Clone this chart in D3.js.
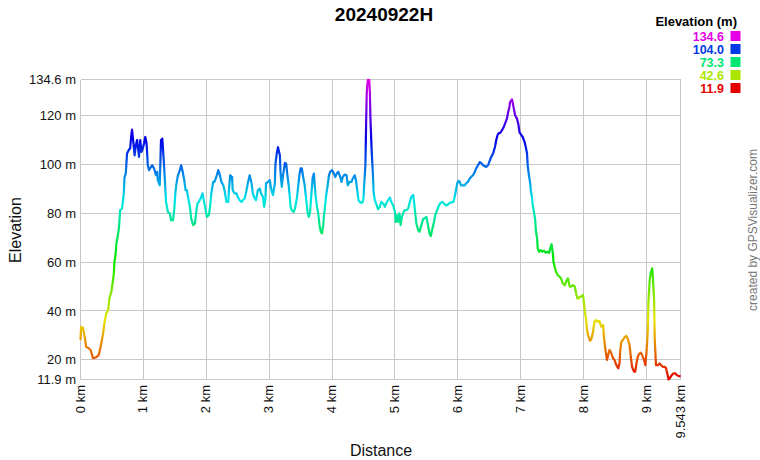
<!DOCTYPE html>
<html><head><meta charset="utf-8">
<script src="https://cdn.jsdelivr.net/npm/d3@7"></script>
<style>
html,body{margin:0;padding:0;background:#fff;}
svg{display:block;font-family:"Liberation Sans",Arial,sans-serif;}
</style></head>
<body>
<svg id="chart" width="760" height="460"></svg>
<script>
// ---- data ----
const title = "20240922H";
const distKm = [0.00,0.01,0.04,0.07,0.09,0.13,0.16,0.20,0.25,0.29,0.32,0.36,0.38,0.41,0.44,0.46,0.49,0.51,0.53,0.54,0.56,0.57,0.59,0.61,0.62,0.63,0.66,0.68,0.69,0.70,0.72,0.73,0.74,0.77,0.79,0.81,0.82,0.84,0.86,0.88,0.90,0.93,0.95,0.97,0.99,1.01,1.03,1.05,1.06,1.07,1.09,1.12,1.14,1.17,1.20,1.22,1.23,1.26,1.28,1.30,1.31,1.33,1.35,1.36,1.39,1.42,1.44,1.47,1.49,1.51,1.53,1.55,1.58,
1.60,1.62,1.65,1.67,1.69,1.72,1.74,1.76,1.79,1.82,1.84,1.86,1.88,1.91,1.94,1.96,1.98,2.01,2.04,2.06,2.08,2.11,2.13,2.16,2.19,2.21,2.24,2.27,2.29,2.32,2.35,2.36,2.38,2.41,2.42,2.45,2.48,2.50,2.53,2.56,2.58,2.61,2.64,2.66,2.69,2.72,2.74,2.77,2.79,2.82,2.85,2.87,2.90,2.92,2.94,2.95,2.98,3.01,3.03,3.06,3.09,3.10,3.12,3.14,
3.17,3.18,3.20,3.22,3.25,3.27,3.29,3.31,3.33,3.34,3.36,3.39,3.41,3.44,3.46,3.48,3.50,3.52,3.54,3.56,3.59,3.61,3.63,3.65,3.67,3.69,3.71,3.72,3.74,3.76,3.78,3.80,3.82,3.84,3.86,3.87,3.89,3.91,3.93,3.95,3.97,4.00,4.03,4.05,4.08,4.10,4.13,4.15,4.17,4.20,4.23,4.25,4.28,4.31,4.33,4.36,4.38,4.40,4.42,4.45,4.48,4.50,4.51,4.53,4.54,4.55,4.56,4.57,4.59,4.60,4.61,4.63,4.65,4.66,4.68,4.71,4.73,4.76,
4.78,4.81,4.84,4.86,4.89,4.92,4.94,4.97,5.00,5.01,5.03,5.05,5.07,5.09,5.11,5.13,5.15,5.18,5.21,5.23,5.26,5.29,5.30,5.32,5.34,5.37,5.39,5.42,5.45,5.47,5.50,5.52,5.55,5.57,5.59,5.62,5.64,5.67,5.69,5.72,5.75,5.77,5.80,5.83,5.86,5.89,5.93,5.95,5.97,5.99,6.01,6.03,6.05,6.08,6.11,6.13,6.16,6.19,6.21,6.24,6.27,6.29,6.32,
6.35,6.37,6.40,6.43,6.45,6.48,6.51,6.53,6.56,6.59,6.61,6.63,6.65,6.67,6.70,6.73,6.75,6.78,6.80,6.82,6.83,6.86,6.87,6.89,6.91,6.94,6.96,6.98,7.01,7.03,7.06,7.08,7.10,7.11,7.13,7.15,7.16,7.18,7.19,7.21,7.23,7.24,7.26,7.27,7.29,7.32,7.34,7.37,7.40,7.42,7.45,7.47,7.49,7.51,7.52,7.54,7.56,7.59,7.62,7.64,7.67,7.70,7.72,7.75,7.78,7.80,7.83,7.86,7.88,7.90,7.92,
7.94,7.96,7.99,8.00,8.02,8.04,8.05,8.07,8.10,8.12,8.15,8.17,8.20,8.23,8.25,8.28,8.31,8.32,8.34,8.37,8.39,8.41,8.43,8.45,8.47,8.49,8.52,8.55,8.57,8.58,8.60,8.63,8.65,8.68,8.70,8.73,8.75,8.77,8.80,8.82,8.84,8.86,8.88,8.91,8.93,8.96,8.98,9.00,9.02,9.03,9.05,9.07,9.09,9.10,9.12,9.13,9.15,9.18,9.21,9.23,9.26,9.29,9.31,9.33,9.35,9.38,9.40,9.43,9.46,9.48,9.51,9.543];
const elevM = [28.0,33.5,33.0,28.9,25.3,24.7,24.0,20.6,21.0,21.9,25.3,30.8,34.9,39.0,40.3,45.1,47.8,51.2,55.3,60.1,63.5,67.6,70.3,73.7,77.1,81.2,81.9,86.0,88.7,94.8,96.2,100.3,104.4,106.0,106.5,112.6,114.2,109.2,103.7,107.8,109.9,103.0,109.9,105.1,106.5,108.5,111.2,108.5,104.4,99.6,97.6,98.9,99.6,98.3,95.5,96.9,93.5,91.4,109.9,110.5,107.1,98.9,89.4,84.6,80.5,79.9,77.1,77.1,81.2,88.7,92.8,95.5,97.6,
99.6,97.6,93.5,89.4,89.4,85.3,82.6,77.8,75.1,75.8,80.5,84.0,84.6,86.0,88.1,85.3,82.6,78.5,79.2,82.6,88.1,92.8,92.8,94.8,97.6,96.2,92.8,91.4,89.4,84.6,84.6,89.4,95.5,94.8,89.4,88.1,88.1,86.7,85.3,84.6,85.3,86.0,89.4,92.2,95.5,92.2,88.1,86.0,85.3,89.4,90.1,88.1,86.7,82.6,86.0,92.2,92.8,93.5,90.1,87.4,92.2,100.3,104.4,107.0,
103.7,96.9,90.8,95.5,100.6,100.3,95.5,91.4,86.0,82.6,81.2,80.5,81.9,86.0,90.8,95.5,98.3,98.3,94.8,92.2,85.3,80.5,78.5,80.5,87.4,94.2,96.2,92.8,86.7,82.6,79.9,75.1,72.4,71.7,75.1,78.5,83.3,88.1,91.4,95.5,96.9,97.6,96.2,94.8,96.5,96.9,94.8,92.8,94.8,95.8,95.5,91.4,92.8,92.8,94.2,95.5,93.5,89.4,85.3,84.3,84.3,86.0,91.4,99.6,114.6,128.3,132.4,134.6,134.5,130.3,118.7,105.1,95.5,88.7,85.3,83.3,81.6,82.6,
84.6,84.0,82.6,84.0,85.3,86.4,84.6,83.3,80.5,76.4,79.2,76.4,79.9,75.1,78.5,79.9,81.2,81.2,81.9,84.0,86.7,87.4,85.3,80.5,75.8,73.0,72.4,75.1,77.8,77.8,78.5,75.8,71.7,70.6,73.0,76.4,79.2,81.2,82.6,84.0,84.6,84.3,83.3,83.3,84.0,84.4,84.6,86.7,89.4,92.2,93.2,92.8,91.4,91.4,91.4,92.2,92.8,94.2,94.8,95.5,96.9,98.3,99.6,
100.9,100.6,99.6,99.2,98.9,99.6,101.7,103.0,104.4,107.1,109.9,111.9,112.8,112.8,113.9,115.3,116.7,118.7,121.4,123.5,125.5,126.6,125.5,122.8,120.1,118.7,116.7,113.2,111.9,111.2,109.2,107.1,104.4,99.6,95.5,92.2,89.4,86.0,83.3,80.5,77.1,73.0,69.6,65.6,64.2,64.9,64.2,64.6,63.8,64.2,63.8,65.6,67.3,63.5,60.1,58.0,56.0,54.6,53.9,53.3,51.2,50.5,51.9,53.3,49.9,49.9,50.5,49.9,47.2,45.1,45.1,
45.8,45.8,46.5,44.4,39.6,36.2,32.8,30.1,27.8,28.3,31.5,35.5,36.2,35.5,35.9,33.5,34.2,30.1,25.3,19.9,21.9,24.0,23.3,21.9,20.6,19.9,17.8,16.5,18.5,23.3,27.4,28.3,29.2,29.7,28.7,26.0,21.2,17.1,15.1,15.1,18.5,21.2,22.3,22.9,21.9,19.9,17.8,23.3,32.1,43.7,52.6,56.0,57.4,53.9,44.4,28.7,17.8,17.8,18.5,17.8,17.1,17.1,16.5,14.4,11.9,12.8,13.7,14.4,14.4,13.7,13.3,13.3];
const yTickValues = [11.9, 20, 40, 60, 80, 100, 120, 134.6];
const yTickLabels = ["11.9 m","20 m","40 m","60 m","80 m","100 m","120 m","134.6 m"];
const xTickValues = [0,1,2,3,4,5,6,7,8,9,9.543];
const xTickLabels = ["0 km","1 km","2 km","3 km","4 km","5 km","6 km","7 km","8 km","9 km","9.543 km"];
const legendValues = [134.6, 104.0, 73.3, 42.6, 11.9];
const legendLabels = ["134.6","104.0","73.3","42.6","11.9"];

// ---- chart ----
const svg = d3.select("#chart");
const eMin = 11.9, eMax = 134.6;
const x = d3.scaleLinear().domain([0, 9.543]).range([80.5, 680.7]);
const y = d3.scaleLinear().domain([eMin, eMax]).range([379.5, 79.8]);
const hue = d3.scaleLinear().domain([eMin, eMax]).range([0, 300]);
const colorOf = e => d3.hsl(hue(e), 1, 0.45).formatHex();

// grid
const grid = svg.append("g").attr("stroke", "#c8c8c8").attr("stroke-width", 1).attr("shape-rendering", "crispEdges");
grid.selectAll("line.h").data(yTickValues).join("line")
  .attr("x1", x(0)).attr("x2", x(9.543))
  .attr("y1", d => y(d)).attr("y2", d => y(d));
grid.selectAll("line.v").data(xTickValues).join("line")
  .attr("y1", y(eMin)).attr("y2", y(eMax))
  .attr("x1", d => x(d)).attr("x2", d => x(d));

// gradient by elevation
const defs = svg.append("defs");
const grad = defs.append("linearGradient").attr("id", "elevGrad")
  .attr("gradientUnits", "userSpaceOnUse")
  .attr("x1", 0).attr("x2", 0).attr("y1", y(eMin)).attr("y2", y(eMax));
grad.selectAll("stop").data(d3.range(0, 21)).join("stop")
  .attr("offset", i => i / 20)
  .attr("stop-color", i => colorOf(eMin + (eMax - eMin) * i / 20));

const pts = distKm.map((d, i) => [d, elevM[i]]);
const line = d3.line().x(d => x(d[0])).y(d => y(d[1]));
svg.append("path").datum(pts)
  .attr("d", line)
  .attr("fill", "none")
  .attr("stroke", "url(#elevGrad)")
  .attr("stroke-width", 2.2)
  .attr("stroke-linejoin", "round");

// y axis labels
const yAxis = d3.axisLeft(y).tickValues(yTickValues).tickSize(0).tickPadding(4)
  .tickFormat((d, i) => yTickLabels[i]);
const gy = svg.append("g").attr("transform", "translate(80,0)").call(yAxis);
gy.select(".domain").remove();
gy.attr("font-size", null).attr("font-family", null);
gy.selectAll("text").style("font-size", "13px").attr("fill", "#111").style("font-family", "'Liberation Sans', Arial, sans-serif");

// x axis labels (rotated)
const gx = svg.append("g");
gx.selectAll("text").data(xTickValues).join("text")
  .attr("transform", d => `translate(${x(d) + 4},385) rotate(-90)`)
  .attr("text-anchor", "end")
  .style("font-size", "13px").attr("fill", "#111")
  .text((d, i) => xTickLabels[i]);

// axis titles
svg.append("text").attr("x", 381).attr("y", 456).attr("text-anchor", "middle")
  .attr("font-size", 16).attr("fill", "#111").text("Distance");
svg.append("text").attr("transform", "translate(21,230) rotate(-90)").attr("text-anchor", "middle")
  .attr("font-size", 16).attr("fill", "#111").text("Elevation");

// title
svg.append("text").attr("x", 384).attr("y", 21).attr("text-anchor", "middle")
  .attr("font-size", 19).attr("font-weight", "bold").attr("fill", "#000").text(title);

// credit
svg.append("text").attr("transform", "translate(757,230) rotate(-90)").attr("text-anchor", "middle")
  .attr("font-size", 12).attr("fill", "#777").text("created by GPSVisualizer.com");

// legend
svg.append("text").attr("x", 737).attr("y", 26).attr("text-anchor", "end")
  .attr("font-size", 13).attr("font-weight", "bold").attr("fill", "#000").text("Elevation (m)");
const lg = svg.append("g");
const rowY = i => 36 + i * 13;
lg.selectAll("rect").data(legendValues).join("rect")
  .attr("x", 730.5).attr("y", (d, i) => rowY(i) - 5).attr("width", 10).attr("height", 10)
  .attr("fill", d => colorOf(d));
lg.selectAll("text").data(legendValues).join("text")
  .attr("x", 724).attr("y", (d, i) => rowY(i) + 4.6).attr("text-anchor", "end")
  .attr("font-size", 12.5).attr("font-weight", "bold")
  .attr("fill", d => colorOf(d))
  .text((d, i) => legendLabels[i]);
</script>
</body></html>
